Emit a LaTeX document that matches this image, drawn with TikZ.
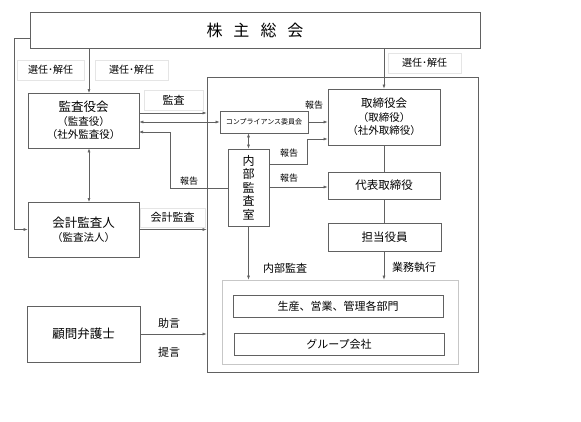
\documentclass[tikz,border=0pt]{standalone}
\usepackage{fontspec}
\setmainfont{Noto Sans CJK JP}
\usetikzlibrary{arrows.meta}
\definecolor{linec}{gray}{0.38}
\definecolor{lblc}{gray}{0.9}
\definecolor{innerc}{gray}{0.78}
\tikzset{
  box/.style={draw=linec, line width=0.7pt, align=center, inner sep=0pt},
  lblbox/.style={draw=lblc, line width=0.6pt, align=center, inner sep=0pt},
  lbl/.style={inner sep=0pt, font=\fontsize{9}{10}\selectfont},
  arr/.style={draw=linec, line width=0.6pt, -{Latex[length=4pt,width=3pt]}},
  darr/.style={draw=linec, line width=0.6pt, {Latex[length=4pt,width=3pt]}-{Latex[length=4pt,width=3pt]}},
  ln/.style={draw=linec, line width=0.6pt}
}
\begin{document}
\begin{tikzpicture}[x=1pt,y=-1pt]
\useasboundingbox[fill=white] (0,0) rectangle (581,421);
% frames
\node[draw=linec, line width=0.7pt, minimum width=271pt, minimum height=295pt, inner sep=0pt] (frame) at (342.5,224.5) {};
\node[draw=innerc, line width=0.7pt, minimum width=236pt, minimum height=84pt, inner sep=0pt] (inner) at (340,322) {};
% main boxes
\node[box, minimum width=450pt, minimum height=36pt, font=\fontsize{16}{18}\selectfont] (sh) at (255,30) {株\hspace{11pt}主\hspace{11pt}総\hspace{11pt}会};
\node[box, minimum width=111pt, minimum height=55pt, font=\fontsize{10.5}{13.5}\selectfont] (ka) at (83.5,120.5) {{\fontsize{12.5}{13.5}\selectfont 監査役会}\\（監査役）\\（社外監査役）};
\node[box, minimum width=112pt, minimum height=56pt, font=\fontsize{10.5}{13.5}\selectfont] (bd) at (384,117) {{\fontsize{11.5}{13.5}\selectfont 取締役会}\\（取締役）\\（社外取締役）};
\node[box, minimum width=88pt, minimum height=22pt, font=\fontsize{7}{8}\selectfont] (cp) at (264,122) {コンプライアンス委員会};
\node[box, minimum width=41pt, minimum height=77pt, font=\fontsize{12}{13.5}\selectfont] (ia) at (248.5,187.5) {内\\部\\監\\査\\室};
\node[box, minimum width=112pt, minimum height=27pt, font=\fontsize{11.5}{13}\selectfont] (rp) at (384,185.5) {代表取締役};
\node[box, minimum width=113pt, minimum height=28pt, font=\fontsize{11.5}{13}\selectfont] (of) at (384.5,237) {担当役員};
\node[box, minimum width=111pt, minimum height=55pt, font=\fontsize{10.5}{13.5}\selectfont] (au) at (83.5,229.5) {{\fontsize{12.5}{13.5}\selectfont 会計監査人}\\（監査法人）};
\node[box, minimum width=113pt, minimum height=56pt, font=\fontsize{12.5}{14}\selectfont] (lw) at (83.5,334) {顧問弁護士};
\node[box, minimum width=210pt, minimum height=22pt, font=\fontsize{11}{12}\selectfont] (dp) at (338,306) {生産、営業、管理各部門};
\node[box, minimum width=210pt, minimum height=22pt, font=\fontsize{11}{12}\selectfont] (gr) at (339,344) {グループ会社};
% label boxes
\node[lblbox, minimum width=67pt, minimum height=20pt, font=\fontsize{10}{11}\selectfont] (l1) at (50.5,70) {選任･解任};
\node[lblbox, minimum width=73pt, minimum height=20pt, font=\fontsize{10}{11}\selectfont] (l2) at (131.5,70) {選任･解任};
\node[lblbox, minimum width=73pt, minimum height=20pt, font=\fontsize{10}{11}\selectfont] (l3) at (424.5,63) {選任･解任};
\node[lblbox, minimum width=59pt, minimum height=20pt, font=\fontsize{11}{12}\selectfont] (l4) at (173.5,100) {監査};
\node[lblbox, minimum width=65pt, minimum height=19pt, font=\fontsize{11}{12}\selectfont] (l5) at (172.5,217.5) {会計監査};
% plain labels
\node[lbl] (r1) at (314,105) {報告};
\node[lbl] (r2) at (289,153) {報告};
\node[lbl] (r3) at (289,178) {報告};
\node[lbl] (r4) at (189,181) {報告};
\node[lbl, font=\fontsize{11}{12}\selectfont] (t1) at (285,268) {内部監査};
\node[lbl, font=\fontsize{11}{12}\selectfont] (t2) at (414,267) {業務執行};
\node[lbl, font=\fontsize{11}{12}\selectfont] (t3) at (169,323) {助言};
\node[lbl, font=\fontsize{11}{12}\selectfont] (t4) at (169,352) {提言};
% coordinates
\coordinate (k1) at (89,93);
\coordinate (k2) at (89,202);
\coordinate (s1) at (30,38);
\coordinate (s2) at (14,38);
\coordinate (s3) at (14,229.5);
\coordinate (ka1) at (139,113);
\coordinate (ka2) at (139,132);
\coordinate (ia1) at (228,188);
\coordinate (ia2) at (170,188);
\coordinate (ia3) at (269,164);
\coordinate (ia4) at (307,164);
\coordinate (ia5) at (307,139);
\coordinate (ia6) at (269,187);
% connectors
\draw[arr] (sh.south -| k1) -- (k1);
\draw[arr] (sh.south -| bd.north) -- (bd.north);
\draw[arr] (s1) -- (s2) -- (s3) -- (au.west);
\draw[darr] (k1 |- ka.south) -- (k2);
\draw[arr] (ka1) -- (ka1 -| frame.west);
\draw[darr] (ka.east |- cp.west) -- (cp.west);
\draw[arr] (cp.east) -- (cp.east -| bd.west);
\draw[darr] (ia.north |- cp.south) -- (ia.north);
\draw[arr] (ia3) -- (ia4) -- (ia5) -- (ia5 -| bd.west);
\draw[arr] (ia6) -- (ia6 -| rp.west);
\draw[arr] (ia1) -- (ia2) -- (ia2 |- ka2) -- (ka2);
\draw[ln] (bd.south) -- (rp.north);
\draw[ln] (rp.south) -- (rp.south |- of.north);
\draw[arr] (of.south -| rp.south) -- (rp.south |- inner.north);
\draw[arr] (ia.south) -- (ia.south |- inner.north);
\draw[arr] (au.east) -- (au.east -| frame.west);
\draw[arr] (lw.east) -- (lw.east -| frame.west);
\end{tikzpicture}
\end{document}
